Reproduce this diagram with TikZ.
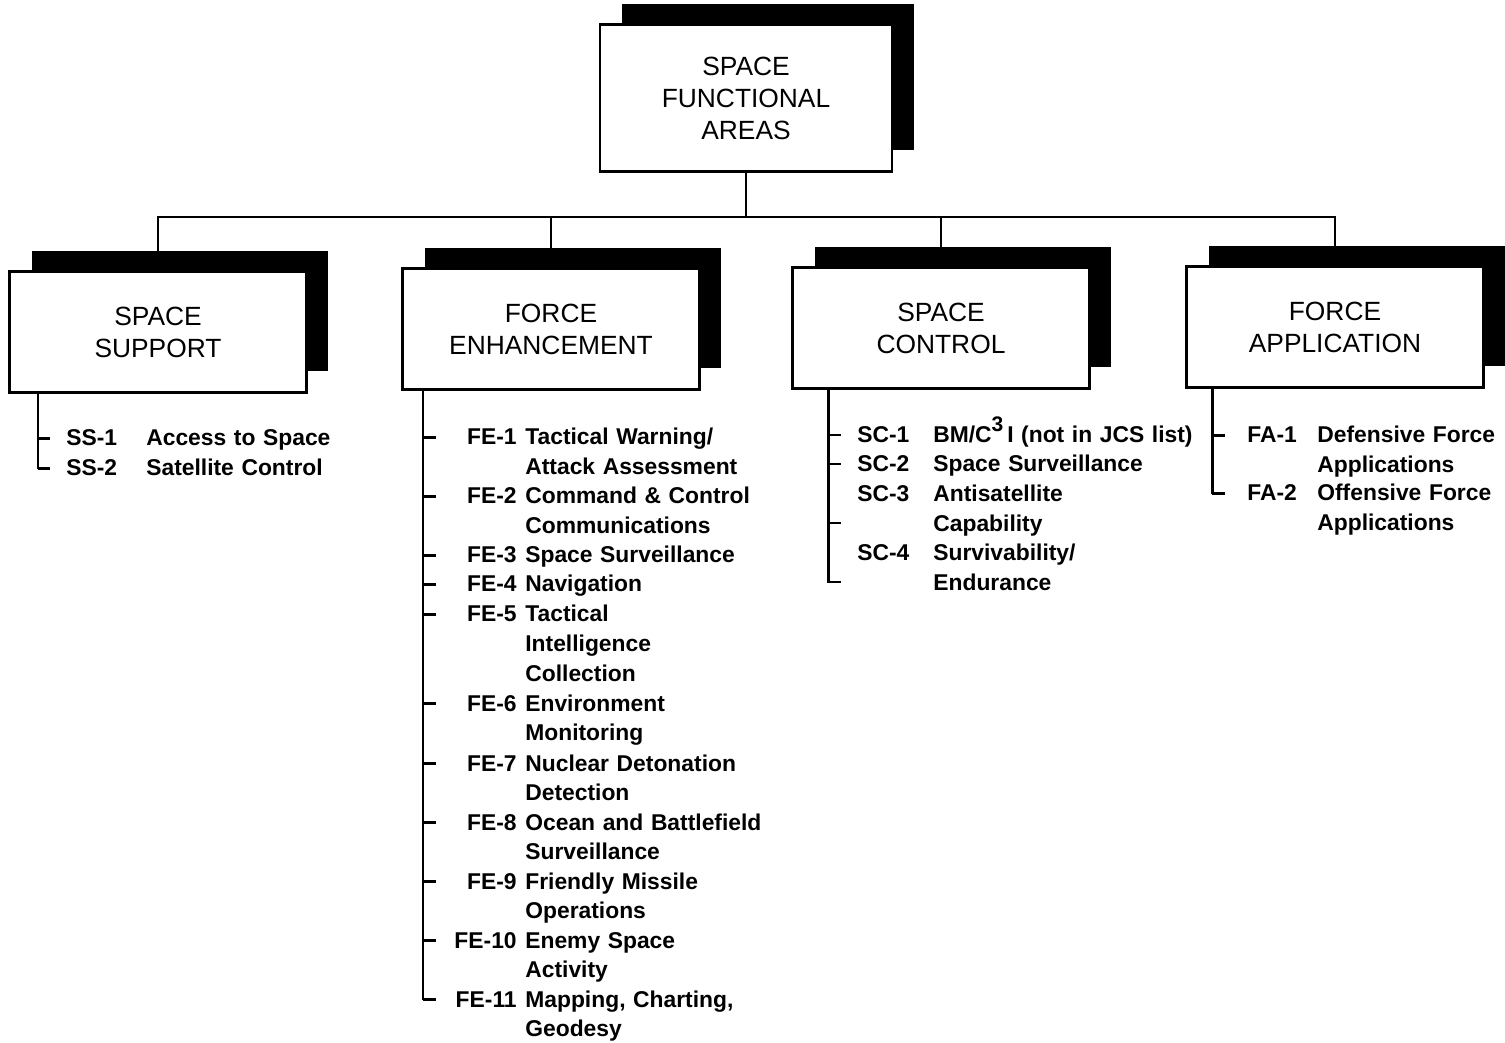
\documentclass[tikz,border=0pt]{standalone}
\usepackage{fontspec}
\setmainfont{Liberation Sans}
\usetikzlibrary{calc,positioning,shadows}

\begin{document}
\begin{tikzpicture}[x=0.02cm,y=-0.02cm]
\tikzstyle{area}=[draw, line width=1.3pt, fill=white, align=center, inner sep=0pt, minimum width=5.94cm, minimum height=2.42cm, font=\fontsize{15}{18.2}\selectfont, general shadow={fill=black, shadow xshift=0.44cm, shadow yshift=0.42cm}]
\tikzstyle{code}=[anchor=base west, inner sep=0pt, font=\fontsize{13}{16.8}\selectfont\bfseries]
\tikzstyle{desc}=[anchor=base west, inner sep=0pt, align=left, text width=5.6cm, font=\fontsize{13}{16.8}\selectfont\bfseries]
\tikzstyle{link}=[line width=1.3pt]
\tikzstyle{spine}=[line width=1.7pt]

\useasboundingbox (0,0) rectangle (1505,1043);

\node[area, minimum width=5.84cm, minimum height=2.94cm] (top) at (746,98) {SPACE\\FUNCTIONAL\\AREAS};
\node[area] (ss) at (158,332) {SPACE\\SUPPORT};
\node[area] (fe) at (551,329) {FORCE\\ENHANCEMENT};
\node[area] (sc) at (941,328) {SPACE\\CONTROL};
\node[area] (fa) at (1335,327) {FORCE\\APPLICATION};

\coordinate (bus) at (746,217);
\draw[link] (top) -- (bus);
\foreach \b in {ss,fe,sc,fa}{\draw[link] (bus) -| (\b.north);}

% space support
\coordinate (ssend) at (38,468);
\draw[spine] (ssend |- ss.south) -- (ssend) -- ++(12,0);
\foreach \y/\c/\t [count=\i] in {438/SS-1/Access to Space, 468/SS-2/Satellite Control}{
  \node[code] (ss\i) at (66,\y+8) {\c};
  \node[desc] (ss\i t) at (146,\y+8) {\t};
  \draw[spine] (ssend |- ss\i) -- ++(12,0);
}

% force enhancement
\coordinate (feend) at (423,999);
\draw[spine] (feend |- fe.south) -- (feend) -- ++(13,0);
\foreach \y/\c/\t [count=\i] in {437/FE-1/{Tactical Warning/\\Attack Assessment},
  496/FE-2/{Command \& Control\\Communications}, 555/FE-3/Space Surveillance,
  584/FE-4/Navigation, 614/FE-5/{Tactical\\Intelligence\\Collection},
  703/FE-6/{Environment\\Monitoring}, 763/FE-7/{Nuclear Detonation\\Detection},
  822/FE-8/{Ocean and Battlefield\\Surveillance}, 881/FE-9/{Friendly Missile\\Operations},
  940/FE-10/{Enemy Space\\Activity}, 999/FE-11/{Mapping, Charting,\\Geodesy}}{
  \node[code, anchor=base east] (fe\i) at (517,\y+8) {\c};
  \node[desc] (fe\i t) at (525,\y+8) {\t};
  \draw[spine] (feend |- fe\i) -- ++(13,0);
}

% space control
\coordinate (scend) at (828,582);
\draw[spine] (scend |- sc.south) -- (scend) -- ++(13,0);
\foreach \y/\c/\t [count=\i] in {435/SC-1/{BM/C\raisebox{0.5em}{\fontsize{12}{12}\selectfont 3}\,I (not in JCS list)},
  464/SC-2/Space Surveillance, 494/SC-3/{Antisatellite\\Capability},
  553/SC-4/{Survivability/\\Endurance}}{
  \node[code] (sc\i) at (857,\y+8) {\c};
  \node[desc] (sc\i t) at (933,\y+8) {\t};
}
\foreach \y in {435,464,523}{\draw[spine] (scend |- 0,\y) -- ++(13,0);}

% force application
\coordinate (faend) at (1212,493);
\draw[spine] (faend |- fa.south) -- (faend) -- ++(13,0);
\foreach \y/\c/\t [count=\i] in {435/FA-1/{Defensive Force\\Applications},
  493/FA-2/{Offensive Force\\Applications}}{
  \node[code] (fa\i) at (1247,\y+8) {\c};
  \node[desc] (fa\i t) at (1317,\y+8) {\t};
  \draw[spine] (faend |- fa\i) -- ++(13,0);
}
\end{tikzpicture}
\end{document}
